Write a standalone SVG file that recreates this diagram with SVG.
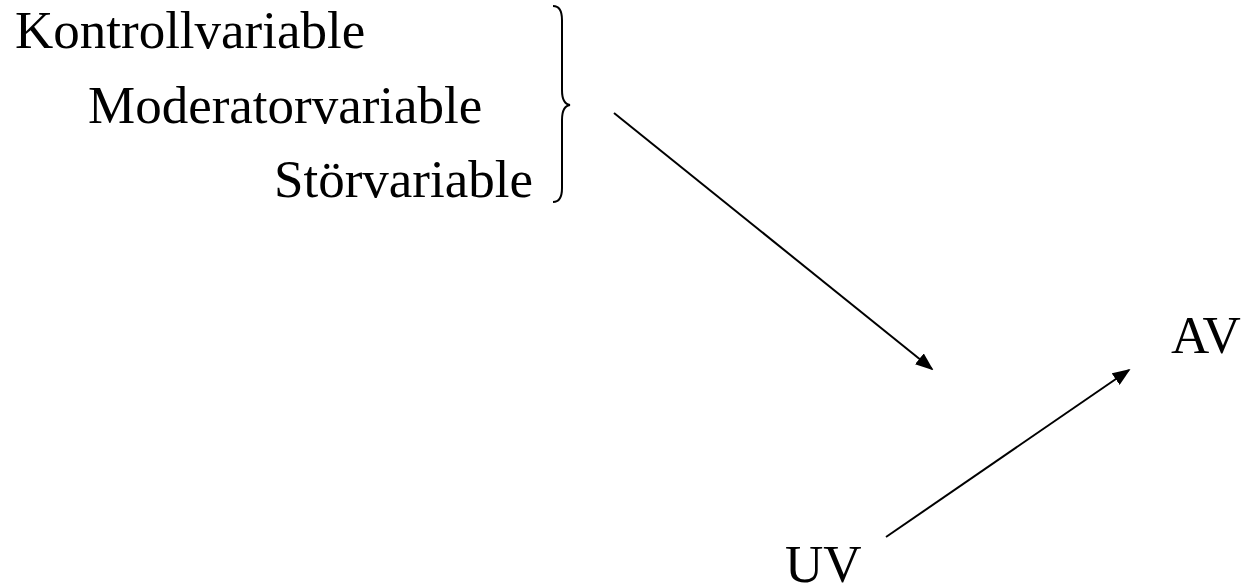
<svg xmlns="http://www.w3.org/2000/svg" width="1245" height="588" viewBox="0 0 1245 588">
<style>
text{font-family:"Liberation Serif","Times New Roman",serif;font-size:53px;fill:#000}
.c{stroke:#000;stroke-width:2;fill:none}
</style>
<defs>
<marker id="ah" viewBox="0 0 10 10" refX="9" refY="5" markerWidth="18" markerHeight="14" markerUnits="userSpaceOnUse" orient="auto" preserveAspectRatio="none">
<path d="M0,0 L10,5 L0,10 Z" fill="#000"/>
</marker>
</defs>
<rect width="1245" height="588" fill="#fff"/>
<g id="kontroll"><text x="15" y="48">Kontrollvariable</text></g>
<g id="moderator"><text x="88" y="123">Moderatorvariable</text></g>
<g id="stoer"><text x="274" y="197">Störvariable</text></g>
<g id="brace"><path class="c" stroke-width="1.6" d="M553,6 Q562,6 562,20 L562,90 Q562,104 570,105 Q562,106 562,120 L562,188 Q562,202 553,202"/></g>
<g id="av"><text x="1171" y="353">AV</text></g>
<g id="uv"><text x="785" y="582">UV</text></g>
<g id="connectors">
<line class="c" x1="614" y1="113" x2="932" y2="369" marker-end="url(#ah)"/>
<line class="c" x1="886" y1="537" x2="1129" y2="370" marker-end="url(#ah)"/>
</g>
</svg>
